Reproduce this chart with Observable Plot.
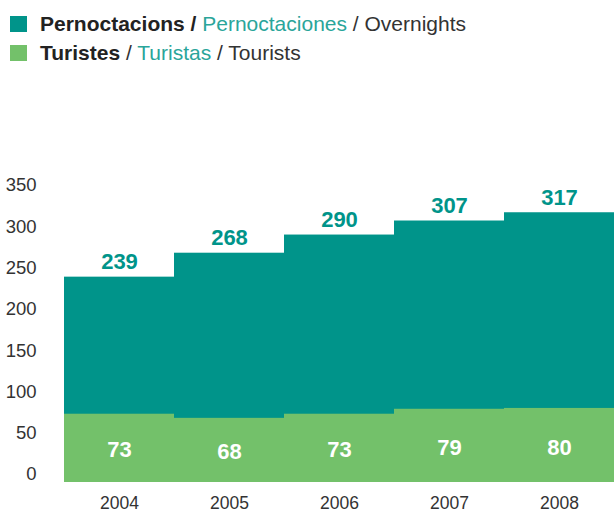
<!DOCTYPE html>
<html>
<head>
<meta charset="utf-8">
<script src="https://cdn.jsdelivr.net/npm/d3@7"></script>
<script src="https://cdn.jsdelivr.net/npm/@observablehq/plot@0.6"></script>
<style>
  html, body { margin: 0; padding: 0; background: #fff; }
  body { width: 614px; height: 514px; overflow: hidden; font-family: "Liberation Sans", Arial, sans-serif; }
  #legend { position: relative; height: 70px; }
  .sw { position: absolute; left: 10px; width: 17px; height: 16px; }
  .lt { position: absolute; left: 40px; font-size: 21px; color: #333; white-space: nowrap; line-height: 1; }
  .lt b { color: #222; }
  .lt .es { color: #2aa59a; }
</style>
</head>
<body>
<div id="legend">
  <div class="sw" style="top:16px;background:#00948a"></div>
  <div class="lt" style="top:13px"><b>Pernoctacions /</b> <span class="es">Pernoctaciones</span> / Overnights</div>
  <div class="sw" style="top:45px;background:#73c16a"></div>
  <div class="lt" style="top:42px"><b>Turistes</b> / <span class="es">Turistas</span> / Tourists</div>
</div>
<div id="chart"></div>
<script>
const years = ["2004", "2005", "2006", "2007", "2008"];
const overnights = [239, 268, 290, 307, 317];
const tourists = [73, 68, 73, 79, 80];
const yTicks = [0, 50, 100, 150, 200, 250, 300, 350];

const teal = "#00948a";
const green = "#73c16a";

const data = years.map((y, i) => ({year: y, overnights: overnights[i], tourists: tourists[i]}));

const chart = Plot.plot({
  width: 614,
  height: 444,
  marginLeft: 63,
  marginRight: 0,
  marginTop: 115,
  marginBottom: 40,
  style: {fontFamily: "'Liberation Sans', Arial, sans-serif", fontSize: "18.5px", color: "#333", background: "#fff"},
  x: {domain: years, padding: 0, label: null},
  y: {domain: [0, 350], label: null},
  marks: [
    Plot.barY(data, {x: "year", y: "overnights", fill: teal, insetBottom: -8}),
    Plot.barY(data, {x: "year", y: "tourists", fill: green, insetBottom: -8}),
    Plot.axisY(yTicks, {tickSize: 0, tickPadding: 27, fontSize: 18.5, label: null}),
    Plot.axisX(years, {tickSize: 0, tickPadding: 22, fontSize: 17.5, label: null}),
    Plot.text(data, {x: "year", y: "overnights", text: d => String(d.overnights), dy: -15, fill: teal, fontWeight: "bold", fontSize: 22}),
    Plot.text(data, {x: "year", y: d => d.tourists / 2, text: d => String(d.tourists), dy: 6, fill: "#fff", fontWeight: "bold", fontSize: 22})
  ]
});
document.getElementById("chart").appendChild(chart);
</script>
</body>
</html>
